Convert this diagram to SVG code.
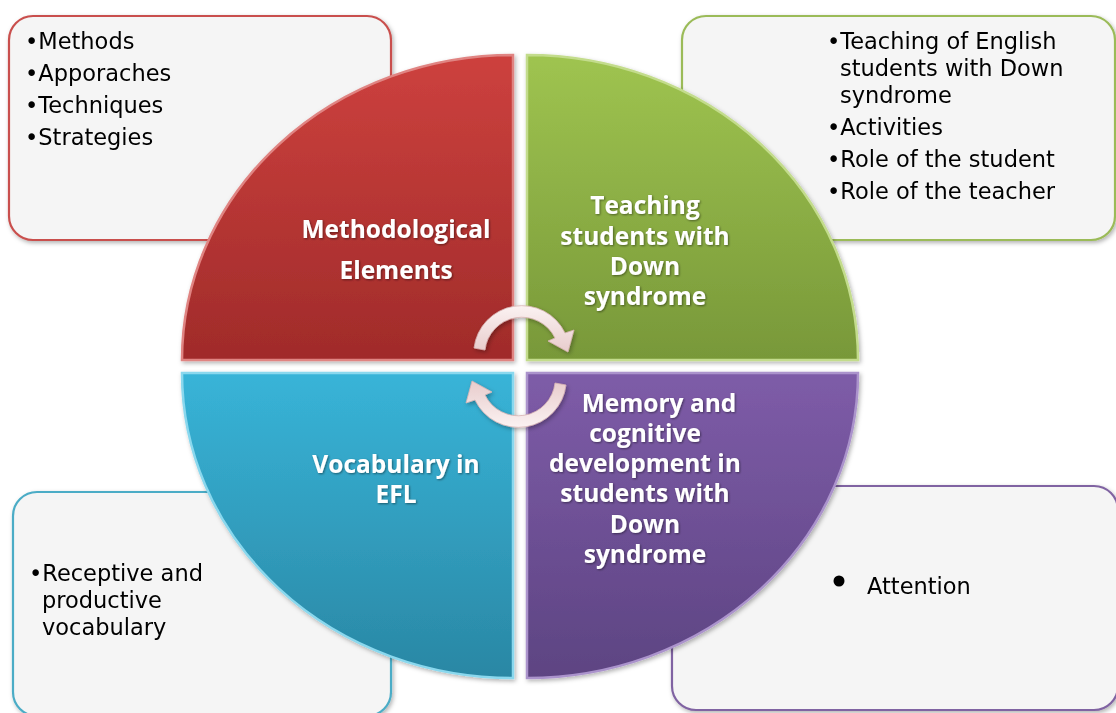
<svg xmlns="http://www.w3.org/2000/svg" width="1116" height="713" viewBox="0 0 1116 713">
<style>
.box{fill:#f5f5f5;stroke-width:2.2}
.body{font-family:"DejaVu Sans","Open Sans",sans-serif;font-size:22.5px;fill:#000}
.lbl{font-family:"Open Sans","Liberation Sans",sans-serif;font-size:24.5px;font-weight:bold;fill:#fff;text-anchor:middle}
.q{stroke-width:2.5}
.arr{fill:url(#ga);stroke:#d8b4b4;stroke-width:0.8}
</style>
<defs>
<filter id="sh" x="-10%" y="-10%" width="120%" height="120%"><feDropShadow dx="1.5" dy="2" stdDeviation="2" flood-color="#000" flood-opacity="0.3"/></filter>
<filter id="tsh" x="-10%" y="-20%" width="120%" height="140%"><feDropShadow dx="1" dy="1" stdDeviation="0.8" flood-color="#000" flood-opacity="0.45"/></filter>
<linearGradient id="gr" x1="0" y1="0" x2="0" y2="1"><stop offset="0" stop-color="#cd413e"/><stop offset="1" stop-color="#a02b2a"/></linearGradient>
<linearGradient id="gg" x1="0" y1="0" x2="0" y2="1"><stop offset="0" stop-color="#9fc450"/><stop offset="1" stop-color="#789839"/></linearGradient>
<linearGradient id="gb" x1="0" y1="0" x2="0" y2="1"><stop offset="0" stop-color="#38b4d8"/><stop offset="1" stop-color="#2a87a4"/></linearGradient>
<linearGradient id="gp" x1="0" y1="0" x2="0" y2="1"><stop offset="0" stop-color="#7e5ca8"/><stop offset="1" stop-color="#5d4482"/></linearGradient>
<linearGradient id="ga" x1="0" y1="0" x2="0" y2="1"><stop offset="0" stop-color="#fbf2f2"/><stop offset="1" stop-color="#e8cccc"/></linearGradient>
</defs>

<g id="box-methods" filter="url(#sh)">
<rect class="box" x="9" y="16" width="382" height="224" rx="24" stroke="#c9504d"/>
<text class="body" x="25" y="49">•Methods</text>
<text class="body" x="25" y="81">•Apporaches</text>
<text class="body" x="25" y="113">•Techniques</text>
<text class="body" x="25" y="145">•Strategies</text>
</g>

<g id="box-teaching" filter="url(#sh)">
<rect class="box" x="682" y="16" width="433" height="224" rx="24" stroke="#9bbb59"/>
<text class="body" x="827" y="49">•Teaching of English</text>
<text class="body" x="840" y="76">students with Down</text>
<text class="body" x="840" y="103">syndrome</text>
<text class="body" x="827" y="135">•Activities</text>
<text class="body" x="827" y="167">•Role of the student</text>
<text class="body" x="827" y="199">•Role of the teacher</text>
</g>

<g id="box-vocabulary" filter="url(#sh)">
<rect class="box" x="13" y="492" width="378" height="224" rx="24" stroke="#4bacc6"/>
<text class="body" x="29" y="581">•Receptive and</text>
<text class="body" x="42" y="608">productive</text>
<text class="body" x="42" y="635">vocabulary</text>
</g>

<g id="box-memory" filter="url(#sh)">
<rect class="box" x="672" y="486" width="446" height="224" rx="24" stroke="#8064a2"/>
<circle cx="839" cy="581" r="5.5" fill="#000"/>
<text class="body" x="867" y="594">Attention</text>
</g>

<g id="q-methodological" filter="url(#sh)">
<path class="q" d="M513,360 L182,360 A331,305 0 0 1 513,55 Z" fill="url(#gr)" stroke="#e08482"/>
<g filter="url(#tsh)">
<text class="lbl" x="396" y="238">Methodological</text>
<text class="lbl" x="396" y="279">Elements</text>
</g>
</g>

<g id="q-teaching" filter="url(#sh)">
<path class="q" d="M527,360 L527,55 A331,305 0 0 1 858,360 Z" fill="url(#gg)" stroke="#c3dc8c"/>
<g filter="url(#tsh)">
<text class="lbl" x="645" y="214">Teaching</text>
<text class="lbl" x="645" y="245">students with</text>
<text class="lbl" x="645" y="275">Down</text>
<text class="lbl" x="645" y="305">syndrome</text>
</g>
</g>

<g id="q-vocabulary" filter="url(#sh)">
<path class="q" d="M513,373 L513,678 A331,305 0 0 1 182,373 Z" fill="url(#gb)" stroke="#8ad8ee"/>
<g filter="url(#tsh)">
<text class="lbl" x="396" y="473">Vocabulary in</text>
<text class="lbl" x="396" y="503">EFL</text>
</g>
</g>

<g id="q-memory" filter="url(#sh)">
<path class="q" d="M527,373 L858,373 A331,305 0 0 1 527,678 Z" fill="url(#gp)" stroke="#ab93cc"/>
<g filter="url(#tsh)">
<text class="lbl" x="659" y="412">Memory and</text>
<text class="lbl" x="645" y="442">cognitive</text>
<text class="lbl" x="645" y="472">development in</text>
<text class="lbl" x="645" y="502">students with</text>
<text class="lbl" x="645" y="533">Down</text>
<text class="lbl" x="645" y="563">syndrome</text>
</g>
</g>

<g id="connectors" filter="url(#sh)">
<path class="arr" d="M474,348 A48,48 0 0 1 565,333 L574,330 L568,352 L548,341 L555,338 A37,37 0 0 0 485,350 Z"/>
<path class="arr" transform="rotate(180 520 366.5)" d="M474,348 A48,48 0 0 1 565,333 L574,330 L568,352 L548,341 L555,338 A37,37 0 0 0 485,350 Z"/>
</g>
</svg>
